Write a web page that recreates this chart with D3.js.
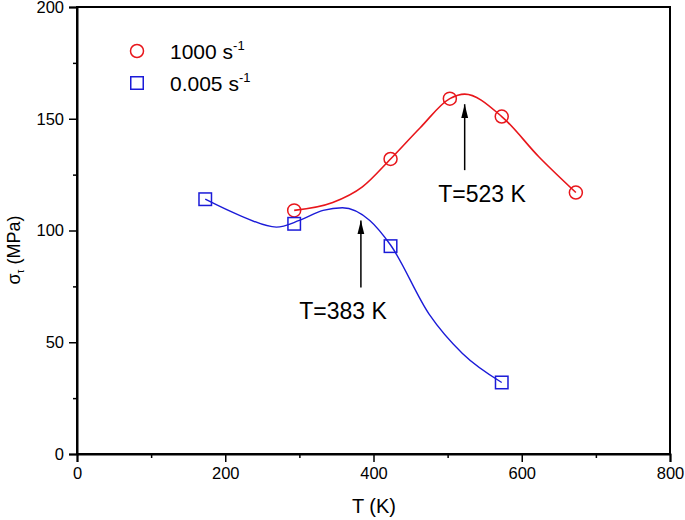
<!DOCTYPE html>
<html>
<head>
<meta charset="utf-8">
<script src="https://cdn.jsdelivr.net/npm/d3@7"></script>
<style>
  html, body { margin: 0; padding: 0; background: #fff; }
  text { font-family: "Liberation Sans", Arial, sans-serif; fill: #000; }
</style>
</head>
<body>
<svg id="chart" width="685" height="520"></svg>
<script>
// ---- data ----
const tempHigh = [293, 423, 503, 573, 673];          // 1000 s^-1
const stressHigh = [109, 132, 159, 151, 117];
const tempLow = [173, 293, 423, 573];                // 0.005 s^-1
const stressLow = [114, 103, 93, 32];

// smooth fitted curves
const fitHighT = [293, 345, 385, 423, 463, 503, 523, 573, 623, 673];
const fitHighS = [109, 112.5, 119.5, 132, 146, 159, 161, 151, 133, 117];
const fitLowT = [173, 220, 269, 300, 332, 358, 395, 423, 475, 520, 573];
const fitLowS = [114, 106.7, 101.5, 104.5, 109, 110.2, 104.5, 93.5, 62.6, 45, 32];

const xTicks = [0, 200, 400, 600, 800];
const xMinor = [100, 300, 500, 700];
const yTicks = [0, 50, 100, 150, 200];
const yMinor = [25, 75, 125, 175];

const annotations = [
  { label: "T=523 K", T: 523, from: 127, to: 156.5, textX: 482 },
  { label: "T=383 K", T: 383, from: 74.5, to: 104.5, textX: 343 }
];

// ---- layout ----
const svg = d3.select("#chart");
const x = d3.scaleLinear().domain([0, 800]).range([77, 670]);
const y = d3.scaleLinear().domain([0, 200]).range([454, 7]);
const RED = "#e8161b", BLUE = "#1b1bd8";

// frame
svg.append("rect").attr("x", x(0)).attr("y", y(200))
  .attr("width", x(800) - x(0)).attr("height", y(0) - y(200))
  .attr("fill", "none").attr("stroke", "#000").attr("stroke-width", 2);

// axes
const xAxis = d3.axisBottom(x).tickValues(xTicks).tickSize(8).tickPadding(5).tickFormat(d3.format("d"));
const gx = svg.append("g").attr("transform", `translate(0,${y(0)})`).call(xAxis);
gx.select(".domain").attr("stroke-width", 2);
gx.selectAll(".tick line").attr("stroke-width", 1.5);
gx.selectAll("text").style("font-size", "16.5px").attr("font-family", "Liberation Sans, Arial, sans-serif");
const gxm = svg.append("g").attr("transform", `translate(0,${y(0)})`)
  .call(d3.axisBottom(x).tickValues(xMinor).tickSize(4).tickFormat(""));
gxm.select(".domain").remove();
gxm.selectAll(".tick line").attr("stroke-width", 1.5);

const yAxis = d3.axisLeft(y).tickValues(yTicks).tickSize(8).tickPadding(5).tickFormat(d3.format("d"));
const gy = svg.append("g").attr("transform", `translate(${x(0)},0)`).call(yAxis);
gy.select(".domain").attr("stroke-width", 2);
gy.selectAll(".tick line").attr("stroke-width", 1.5);
gy.selectAll("text").style("font-size", "16.5px").attr("font-family", "Liberation Sans, Arial, sans-serif");
const gym = svg.append("g").attr("transform", `translate(${x(0)},0)`)
  .call(d3.axisLeft(y).tickValues(yMinor).tickSize(4).tickFormat(""));
gym.select(".domain").remove();
gym.selectAll(".tick line").attr("stroke-width", 1.5);

// axis titles
svg.append("text").attr("x", 374).attr("y", 513).attr("text-anchor", "middle")
  .style("font-size", "20px").text("T (K)");
const yl = svg.append("text").attr("transform", "translate(20,250) rotate(-90)")
  .attr("text-anchor", "middle").style("font-size", "18px");
yl.append("tspan").text("σ");
yl.append("tspan").attr("dy", 4).style("font-size", "10px").text("τ");
yl.append("tspan").attr("dy", -4).text(" (MPa)");

// curves
const line = d3.line().x(d => x(d[0])).y(d => y(d[1])).curve(d3.curveMonotoneX);
svg.append("path").datum(d3.zip(fitHighT, fitHighS)).attr("d", line)
  .attr("fill", "none").attr("stroke", RED).attr("stroke-width", 1.6);
svg.append("path").datum(d3.zip(fitLowT, fitLowS)).attr("d", line)
  .attr("fill", "none").attr("stroke", BLUE).attr("stroke-width", 1.4);

// markers
svg.append("g").selectAll("circle").data(d3.zip(tempHigh, stressHigh)).join("circle")
  .attr("cx", d => x(d[0])).attr("cy", d => y(d[1])).attr("r", 6.5)
  .attr("fill", "none").attr("stroke", RED).attr("stroke-width", 1.5);
const sq = 12.5;
svg.append("g").selectAll("rect").data(d3.zip(tempLow, stressLow)).join("rect")
  .attr("x", d => x(d[0]) - sq / 2).attr("y", d => y(d[1]) - sq / 2)
  .attr("width", sq).attr("height", sq)
  .attr("fill", "none").attr("stroke", BLUE).attr("stroke-width", 1.5);

// legend
const legend = svg.append("g");
legend.append("circle").attr("cx", 137).attr("cy", 51).attr("r", 6.5)
  .attr("fill", "none").attr("stroke", RED).attr("stroke-width", 1.5);
legend.append("rect").attr("x", 137 - sq / 2).attr("y", 83 - sq / 2).attr("width", sq).attr("height", sq)
  .attr("fill", "none").attr("stroke", BLUE).attr("stroke-width", 1.5);
const legendLabels = [["1000 s", 58.5], ["0.005 s", 91]];
legendLabels.forEach(([t, by]) => {
  const tx = legend.append("text").attr("x", 170).attr("y", by).style("font-size", "21px");
  tx.append("tspan").text(t);
  tx.append("tspan").attr("dy", -9).style("font-size", "13px").text("-1");
});

// annotations with arrows
const defs = svg.append("defs");
defs.append("marker").attr("id", "ah").attr("viewBox", "0 0 14 8")
  .attr("refX", 14).attr("refY", 4).attr("markerWidth", 14).attr("markerHeight", 8)
  .attr("markerUnits", "userSpaceOnUse").attr("orient", "auto")
  .append("path").attr("d", "M0,0.5 L14,4 L0,7.5 Z").attr("fill", "#000");
annotations.forEach(a => {
  svg.append("line").attr("x1", x(a.T)).attr("x2", x(a.T))
    .attr("y1", y(a.from)).attr("y2", y(a.to))
    .attr("stroke", "#000").attr("stroke-width", 1.5).attr("marker-end", "url(#ah)");
  svg.append("text").attr("x", a.textX).attr("y", y(a.from) + 32)
    .attr("text-anchor", "middle").style("font-size", "23px").text(a.label);
});
</script>
</body>
</html>
